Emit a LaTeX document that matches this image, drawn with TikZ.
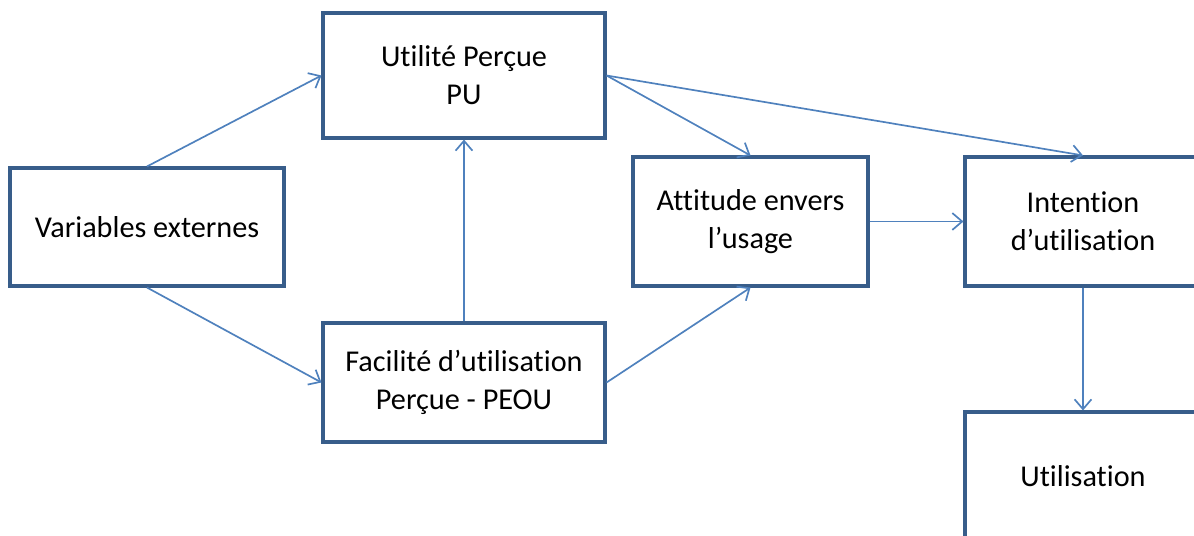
\documentclass[tikz,border=0pt]{standalone}
\usepackage{fontspec}
\setmainfont[Ligatures=NoCommon]{Carlito}
\usetikzlibrary{arrows.meta}
\definecolor{boxline}{RGB}{56,93,138}
\definecolor{arrowline}{RGB}{79,129,189}
\begin{document}
\begin{tikzpicture}[x=0.025cm,y=-0.025cm,
    boite/.style={draw=boxline,line width=2.2pt,align=center,
      inner sep=0pt,font=\fontsize{21.5}{27}\selectfont},
    fleche/.style={draw=arrowline,line width=1.2pt,
      -{Straight Barb[length=7pt,width=12pt]}}]
  \clip (0,0) rectangle (1194,536);
  \path
    (147,227) node[boite,minimum width=274*0.025cm,minimum height=118*0.025cm] (var){Variables externes}
    (464,75.5) node[boite,minimum width=282*0.025cm,minimum height=125*0.025cm] (pu){Utilité Perçue\\PU}
    (464,382.5) node[boite,minimum width=282*0.025cm,minimum height=119*0.025cm] (peou){Facilité d’utilisation\\Perçue - PEOU}
    (750.5,221.5) node[boite,minimum width=235*0.025cm,minimum height=129*0.025cm] (att){Attitude envers\\l’usage}
    (1083,221.5) node[boite,minimum width=236*0.025cm,minimum height=129*0.025cm] (int){Intention\\d’utilisation}
    (1083,476) node[boite,minimum width=236*0.025cm,minimum height=128*0.025cm] (util){Utilisation};
  \begin{scope}[fleche]
    \draw (var.north) to (pu.west);
    \draw (var.south) to (peou.west);
    \draw (peou.north) to (pu.south);
    \draw (pu.east) to (att.north);
    \draw (pu.east) to (int.north);
    \draw (peou.east) to (att.south);
    \draw (att.east) to (int.west);
    \draw (int.south) to (util.north);
  \end{scope}
\end{tikzpicture}
\end{document}
